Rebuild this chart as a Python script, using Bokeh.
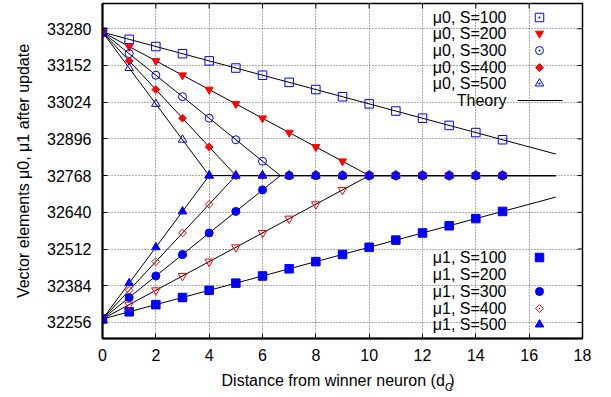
from bokeh.plotting import figure
from bokeh.models import Range1d, FixedTicker, Label, Title
from bokeh.embed import file_html
from bokeh.resources import INLINE

# ---------------- data ----------------
d = [0, 1, 2, 3, 4, 5, 6, 7, 8, 9, 10, 11, 12, 13, 14, 15]

mu0_s100 = [33268, 33243, 33218, 33193, 33168, 33143, 33118, 33093, 33068, 33043, 33018, 32993, 32968, 32943, 32918, 32893]
mu0_s200 = [33268, 33218, 33168, 33118, 33068, 33018, 32968, 32918, 32868, 32818, 32768, 32768, 32768, 32768, 32768, 32768]
mu0_s300 = [33268, 33193, 33118, 33043, 32968, 32893, 32818, 32768, 32768, 32768, 32768, 32768, 32768, 32768, 32768, 32768]
mu0_s400 = [33268, 33168, 33068, 32968, 32868, 32768, 32768, 32768, 32768, 32768, 32768, 32768, 32768, 32768, 32768, 32768]
mu0_s500 = [33268, 33143, 33018, 32893, 32768, 32768, 32768, 32768, 32768, 32768, 32768, 32768, 32768, 32768, 32768, 32768]

mu1_s100 = [32268, 32293, 32318, 32343, 32368, 32393, 32418, 32443, 32468, 32493, 32518, 32543, 32568, 32593, 32618, 32643]
mu1_s200 = [32268, 32318, 32368, 32418, 32468, 32518, 32568, 32618, 32668, 32718, 32768, 32768, 32768, 32768, 32768, 32768]
mu1_s300 = [32268, 32343, 32418, 32493, 32568, 32643, 32718, 32768, 32768, 32768, 32768, 32768, 32768, 32768, 32768, 32768]
mu1_s400 = [32268, 32368, 32468, 32568, 32668, 32768, 32768, 32768, 32768, 32768, 32768, 32768, 32768, 32768, 32768, 32768]
mu1_s500 = [32268, 32393, 32518, 32643, 32768, 32768, 32768, 32768, 32768, 32768, 32768, 32768, 32768, 32768, 32768, 32768]

# theory curves (breakpoints)
th_x_s100 = [0, 17]
th_mu0_s100 = [33268, 32843]
th_mu1_s100 = [32268, 32693]
th_x_s200 = [0, 10, 17]
th_x_s300 = [0, 6.67, 17]
th_x_s400 = [0, 5, 17]
th_x_s500 = [0, 4, 17]
th_mu0_sat = [33268, 32768, 32768]
th_mu1_sat = [32268, 32768, 32768]

x_ticks = [0, 2, 4, 6, 8, 10, 12, 14, 16, 18]
y_ticks = [32256, 32384, 32512, 32640, 32768, 32896, 33024, 33152, 33280]

legend_mu0 = ["\u03bc0, S=100", "\u03bc0, S=200", "\u03bc0, S=300", "\u03bc0, S=400", "\u03bc0, S=500"]
legend_mu1 = ["\u03bc1, S=100", "\u03bc1, S=200", "\u03bc1, S=300", "\u03bc1, S=400", "\u03bc1, S=500"]

# ---------------- layout ----------------
W, H = 611, 397
FL, FR, FT, FB = 102, 582, 3, 338
XMIN, XMAX = 0, 18
YMIN, YMAX = 32200, 33368
FONT = "Liberation Sans"
BLUE = "#0000ff"
RED = "#ff0000"
TICK = 5  # px


def px_x(px):
    return XMIN + (px - FL) * (XMAX - XMIN) / (FR - FL)


def px_y(py):
    return YMAX - (py - FT) * (YMAX - YMIN) / (FB - FT)


p = figure(width=W, height=H, x_range=Range1d(XMIN, XMAX), y_range=Range1d(YMIN, YMAX),
           output_backend="svg", toolbar_location=None,
           min_border_left=FL, min_border_right=W - FR, min_border_top=FT, min_border_bottom=H - FB)
p.background_fill_color = "white"
p.border_fill_color = "white"
p.outline_line_color = "black"
p.outline_line_width = 1.5

for ax in (p.xaxis[0], p.yaxis[0]):
    ax.axis_line_color = "black"
    ax.axis_line_width = 2
    ax.major_tick_in = TICK
    ax.major_tick_out = 0
    ax.minor_tick_line_color = None
    ax.major_label_text_font = FONT
    ax.major_label_text_font_size = "16px"
    ax.major_label_text_color = "black"
p.xaxis.ticker = FixedTicker(ticks=x_ticks)
p.yaxis.ticker = FixedTicker(ticks=y_ticks)
p.xaxis.major_label_standoff = 10
p.yaxis.major_label_standoff = 11

p.yaxis.axis_label = "Vector elements \u03bc0, \u03bc1 after update"
p.yaxis.axis_label_text_font = FONT
p.yaxis.axis_label_text_font_size = "16px"
p.yaxis.axis_label_text_font_style = "normal"
p.yaxis.axis_label_text_color = "black"
p.yaxis.axis_label_standoff = 12

# x label: main text on the axis, subscript "C" as a small title placed below
p.xaxis.axis_label = "Distance from winner neuron (d   )"
p.xaxis.axis_label_text_font = FONT
p.xaxis.axis_label_text_font_size = "16px"
p.xaxis.axis_label_text_font_style = "normal"
p.xaxis.axis_label_text_color = "black"
p.xaxis.axis_label_standoff = 8

sub = Title(text="C", align="left", vertical_align="top", offset=444.5 - FL, standoff=-22,
            text_font=FONT, text_font_size="11px", text_font_style="normal", text_color="black")
p.add_layout(sub, "below")

for g in (p.xgrid[0], p.ygrid[0]):
    g.grid_line_color = "#333333"
    g.grid_line_dash = "1 2"
    g.grid_line_width = 1
    g.grid_line_alpha = 0.8

# mirrored inward ticks on the top and right frame edges
dy_tick = TICK * (YMAX - YMIN) / (FB - FT)
dx_tick = TICK * (XMAX - XMIN) / (FR - FL)
p.segment(x0=x_ticks, y0=[YMAX] * len(x_ticks), x1=x_ticks, y1=[YMAX - dy_tick] * len(x_ticks),
          line_color="black", line_width=1)
p.segment(x0=[XMAX] * len(y_ticks), y0=y_ticks, x1=[XMAX - dx_tick] * len(y_ticks), y1=y_ticks,
          line_color="black", line_width=1)

# ---------------- theory lines ----------------
p.line(th_x_s100, th_mu0_s100, line_color="black", line_width=1)
p.line(th_x_s100, th_mu1_s100, line_color="black", line_width=1)
for tx in (th_x_s200, th_x_s300, th_x_s400, th_x_s500):
    p.line(tx, th_mu0_sat, line_color="black", line_width=1)
    p.line(tx, th_mu1_sat, line_color="black", line_width=1)

# ---------------- markers ----------------
DIAMOND_ANGLE = 0.7853981634
styles0 = [
    dict(marker="square", size=8.5, fill_color=None, line_color=BLUE),
    dict(marker="inverted_triangle", size=8, fill_color=RED, line_color=RED),
    dict(marker="circle", size=8, fill_color=None, line_color=BLUE),
    dict(marker="square", size=5.5, angle=DIAMOND_ANGLE, fill_color=RED, line_color=RED),
    dict(marker="triangle", size=8.5, fill_color=None, line_color=BLUE),
]
styles1 = [
    dict(marker="square", size=8.5, fill_color=BLUE, line_color=BLUE),
    dict(marker="inverted_triangle", size=8.5, fill_color=None, line_color=RED),
    dict(marker="circle", size=8, fill_color=BLUE, line_color=BLUE),
    dict(marker="square", size=5.5, angle=DIAMOND_ANGLE, fill_color=None, line_color=RED),
    dict(marker="triangle", size=8.5, fill_color=BLUE, line_color=BLUE),
]
series0 = [mu0_s100, mu0_s200, mu0_s300, mu0_s400, mu0_s500]
series1 = [mu1_s100, mu1_s200, mu1_s300, mu1_s400, mu1_s500]

for ys, st in zip(series0, styles0):
    p.scatter(d, ys, line_width=1, **st)
for ys, st in zip(series1, styles1):
    p.scatter(d, ys, line_width=1, **st)

# ---------------- legends (gnuplot style: text right-aligned, key on the right) ----------------
TEXT_X = px_x(506)
KEY_X = px_x(539)
rows0 = [17, 33, 50, 67, 83]
rows1 = [257, 274, 291, 308, 324]
leg_styles0 = [
    dict(marker="square_dot", size=8.5, fill_color=None, line_color=BLUE),
    dict(marker="inverted_triangle", size=8, fill_color=RED, line_color=RED),
    dict(marker="circle_dot", size=8, fill_color=None, line_color=BLUE),
    dict(marker="square", size=5.5, angle=DIAMOND_ANGLE, fill_color=RED, line_color=RED),
    dict(marker="triangle_dot", size=8.5, fill_color=None, line_color=BLUE),
]
leg_styles1 = [
    dict(marker="square", size=8.5, fill_color=BLUE, line_color=BLUE),
    dict(marker="inverted_triangle_dot", size=8.5, fill_color=None, line_color=RED),
    dict(marker="circle", size=8, fill_color=BLUE, line_color=BLUE),
    dict(marker="square_dot", size=5.5, angle=DIAMOND_ANGLE, fill_color=None, line_color=RED),
    dict(marker="triangle", size=8.5, fill_color=BLUE, line_color=BLUE),
]


def add_text(x, y, txt, size="16px", align="right", baseline="middle"):
    p.add_layout(Label(x=x, y=y, text=txt, text_font=FONT, text_font_size=size,
                       text_align=align, text_baseline=baseline, text_color="black"))


for txt, py, st in zip(legend_mu0, rows0, leg_styles0):
    add_text(TEXT_X, px_y(py), txt)
    p.scatter([KEY_X], [px_y(py)], line_width=1, **st)
add_text(TEXT_X, px_y(100), "Theory")
p.line([px_x(517), px_x(562)], [px_y(100), px_y(100)], line_color="black", line_width=1)

for txt, py, st in zip(legend_mu1, rows1, leg_styles1):
    add_text(TEXT_X, px_y(py), txt)
    p.scatter([KEY_X], [px_y(py)], line_width=1, **st)

open("out.html", "w").write(file_html(p, INLINE))
